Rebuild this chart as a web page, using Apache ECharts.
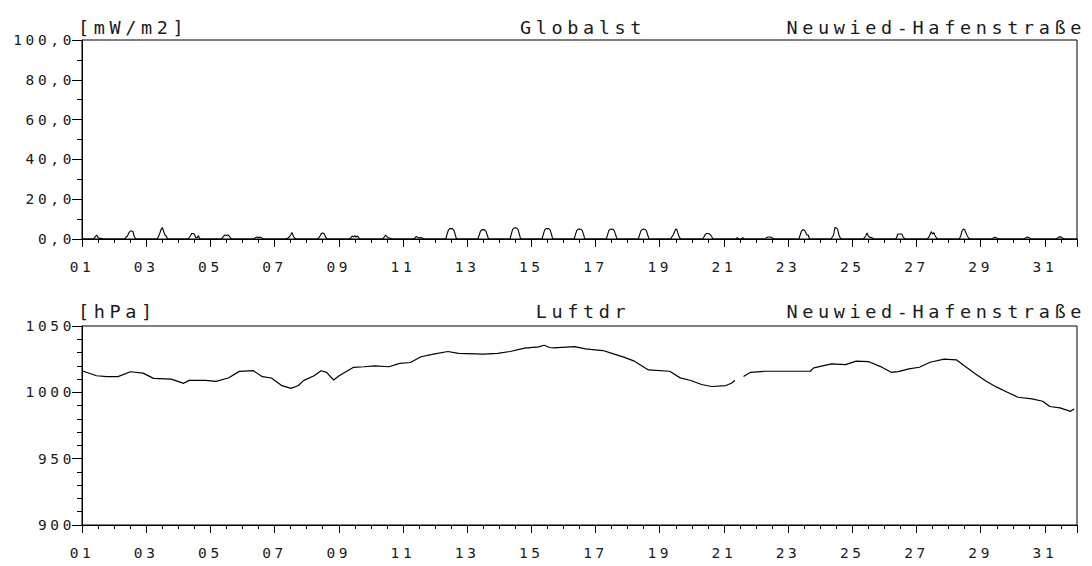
<!DOCTYPE html>
<html><head><meta charset="utf-8">
<script src="https://cdn.jsdelivr.net/npm/echarts@6/dist/echarts.min.js"></script>
<style>
html,body{margin:0;padding:0;background:#fff;}
#chart{width:1092px;height:566px;}
#chart text{letter-spacing:0.25em;}
</style></head><body><div id="chart"></div>
<script>
// ---------- data ----------
const dayTickLabels = ['01','03','05','07','09','11','13','15','17','19','21','23','25','27','29','31'];
const globalstTickLabels = ['0,0','20,0','40,0','60,0','80,0','100,0'];
const pressureTickLabels = ['900','950','1000','1050'];

// Globalstrahlung [mW/m2], daytime values at these hours of each day (night = 0)
const globalstHours = [8, 9, 10, 11, 12, 13, 14, 15, 16];
const globalstDay01 = [0, 0.3, 1.2, 2.0, 0.8, 0.4, 0.3, 0.2, 0];
const globalstDay02 = [0, 1.0, 1.5, 3.0, 4.0, 4.0, 3.8, 1.5, 0];
const globalstDay03 = [0, 1.0, 2.5, 4.5, 5.8, 4.0, 2.0, 1.5, 0];
const globalstDay04 = [0.5, 1.5, 2.8, 2.8, 2.5, 0.8, 0.5, 1.7, 0.3];
const globalstDay05 = [0, 0.5, 1.5, 2.0, 1.8, 2.0, 1.5, 0.5, 0];
const globalstDay06 = [0, 0.3, 0.8, 1.0, 0.6, 1.0, 0.8, 0.3, 0];
const globalstDay07 = [0, 0.3, 0.5, 1.0, 2.0, 3.3, 1.5, 0.5, 0];
const globalstDay08 = [0, 0.5, 1.5, 2.7, 3.0, 2.8, 1.2, 0.3, 0];
const globalstDay09 = [0, 0.5, 1.5, 1.0, 1.7, 1.0, 1.5, 0.5, 0];
const globalstDay10 = [0, 0.3, 1.0, 2.0, 1.2, 0.5, 0.5, 0.3, 0];
const globalstDay11 = [0, 0.5, 1.3, 0.8, 0.5, 0.8, 0.6, 0.3, 0];
const globalstDay12 = [0, 2.5, 4.5, 5.2, 5.3, 5.2, 4.5, 2.5, 0];
const globalstDay13 = [0, 2.0, 4.0, 4.6, 4.7, 4.6, 4.0, 2.0, 0];
const globalstDay14 = [0, 2.5, 4.8, 5.5, 5.7, 5.5, 4.8, 2.5, 0];
const globalstDay15 = [0, 2.5, 4.6, 5.2, 5.3, 5.2, 4.6, 2.5, 0];
const globalstDay16 = [0, 2.3, 4.3, 4.9, 5.0, 4.9, 4.3, 2.3, 0];
const globalstDay17 = [0, 2.2, 4.3, 4.9, 5.0, 4.9, 4.2, 2.2, 0];
const globalstDay18 = [0, 2.2, 4.2, 4.8, 5.0, 4.8, 4.2, 2.0, 0];
const globalstDay19 = [0, 1.0, 2.0, 3.5, 5.0, 4.5, 2.0, 0.5, 0];
const globalstDay20 = [0, 1.0, 2.2, 2.8, 2.8, 2.6, 2.0, 1.0, 0];
const globalstDay21 = [0, 0, 0.7, 0, 0, 0, 0.7, 0, 0];
const globalstDay22 = [0.8, 1.0, 1.0, 1.0, 0.5, 0.3, 0, 0, 0];
const globalstDay23 = [0, 2.0, 4.0, 4.7, 4.5, 3.5, 2.0, 2.0, 0];
const globalstDay24 = [0, 1.0, 2.0, 5.8, 5.6, 5.0, 2.0, 0.5, 0];
const globalstDay25 = [0, 0.5, 1.5, 3.0, 1.5, 0.8, 0.8, 0.5, 0];
const globalstDay26 = [0, 0.5, 2.5, 2.5, 2.5, 2.5, 1.0, 0.3, 0];
const globalstDay27 = [0, 0.8, 2.0, 3.7, 2.5, 3.2, 1.5, 0.5, 0];
const globalstDay28 = [0, 1.5, 4.0, 5.0, 4.8, 3.0, 1.5, 0.5, 0];
const globalstDay29 = [0, 0.3, 0.8, 0.8, 0.5, 0.3, 0, 0, 0];
const globalstDay30 = [0, 0.3, 0.8, 1.0, 0.8, 0.3, 0, 0, 0];
const globalstDay31 = [0, 0.3, 0.8, 1.2, 1.0, 0.5, 0.3, 0, 0];
const globalstDays = [globalstDay01, globalstDay02, globalstDay03, globalstDay04, globalstDay05, globalstDay06,
  globalstDay07, globalstDay08, globalstDay09, globalstDay10, globalstDay11, globalstDay12, globalstDay13,
  globalstDay14, globalstDay15, globalstDay16, globalstDay17, globalstDay18, globalstDay19, globalstDay20,
  globalstDay21, globalstDay22, globalstDay23, globalstDay24, globalstDay25, globalstDay26, globalstDay27,
  globalstDay28, globalstDay29, globalstDay30, globalstDay31];

// Luftdruck [hPa]: time in days of the month (1.0 = start of day 01), value
const pressureTime = [1.00,1.45,1.78,2.12,2.51,2.90,3.23,3.78,4.17,4.34,4.84,5.17,5.56,5.90,6.34,6.62,6.90,7.23,7.51,7.73,
  7.90,8.23,8.45,8.62,8.84,9.01,9.45,9.79,10.12,10.56,10.90,11.23,11.56,11.95,12.40,12.73,13.51,13.95,14.34,14.79,
  15.23,15.40,15.57,15.69,16.35,16.68,17.23,17.56,17.88,18.21,18.65,19.31,19.64,19.97,20.30,20.62,21.06,21.23,21.34,
  21.45,21.61,21.83,22.27,22.93,23.69,23.80,24.35,24.79,25.12,25.50,25.88,26.21,26.43,26.76,27.09,27.42,27.86,28.24,
  28.52,28.84,29.17,29.50,29.83,30.16,30.60,30.93,31.15,31.47,31.80,31.91];
const pressureHpa = [1016.3,1012.5,1011.8,1011.8,1015.5,1014.5,1010.5,1010.0,1006.8,1009.0,1009.0,1008.3,1010.8,1015.8,1016.3,1011.8,1010.8,1005.0,1003.0,1005.0,
  1008.8,1012.5,1016.3,1015.0,1009.3,1012.5,1018.8,1019.3,1020.0,1019.3,1021.8,1022.5,1026.8,1028.8,1030.8,1029.3,1028.8,1029.3,1030.8,1033.3,
  1034.3,1035.5,1033.8,1033.5,1034.5,1032.8,1031.5,1029.0,1026.5,1023.5,1016.9,1015.9,1010.9,1008.9,1005.9,1004.4,1005.1,1006.9,1008.9,
  null,1011.9,1015.1,1015.9,1015.9,1015.9,1018.4,1021.4,1020.9,1023.5,1023.2,1019.4,1015.1,1015.6,1017.7,1018.9,1022.7,1025.0,1024.5,
  1019.4,1013.9,1008.4,1003.9,1000.1,996.3,995.1,993.3,989.3,988.3,985.7,987.5];

// ---------- build series data ----------
const globalstData = [[0, 0]];
globalstDays.forEach(function (vals, d) {
  globalstData.push([d + 7 / 24, 0]);
  vals.forEach(function (v, i) { globalstData.push([d + globalstHours[i] / 24, v]); });
  globalstData.push([d + 17 / 24, 0]);
});
globalstData.push([31, 0]);
const pressureData = pressureTime.map(function (t, i) { return [t - 1, pressureHpa[i]]; });

// ---------- chart ----------
const FONT = "'DejaVu Sans Mono', monospace";
const TXT = '#1a1a1a';
const chart = echarts.init(document.getElementById('chart'), null, { renderer: 'svg' });

function xAxisCfg(gi) {
  return {
    type: 'value', gridIndex: gi, min: 0, max: 31, interval: 2,
    axisLine: { show: true, onZero: false, lineStyle: { color: '#000', width: 1 } },
    axisTick: { show: true, length: 8, lineStyle: { color: '#000', width: 1 } },
    minorTick: { show: true, splitNumber: 4, length: 4, lineStyle: { color: '#000', width: 1 } },
    splitLine: { show: false },
    axisLabel: {
      margin: 20, color: TXT, fontFamily: FONT, fontSize: 14.5,
      showMinLabel: true, showMaxLabel: true,
      formatter: function (v) { return (v <= 30 && v % 2 === 0) ? dayTickLabels[v / 2] : ''; }
    }
  };
}
function yAxisCfg(gi, min, max, interval, split, labels) {
  return {
    type: 'value', gridIndex: gi, min: min, max: max, interval: interval,
    axisLine: { show: true, onZero: false, lineStyle: { color: '#000', width: 1 } },
    axisTick: { show: true, length: 10, lineStyle: { color: '#000', width: 1 } },
    minorTick: { show: true, splitNumber: split, length: 5, lineStyle: { color: '#000', width: 1 } },
    splitLine: { show: false },
    axisLabel: {
      margin: 7, color: TXT, fontFamily: FONT, fontSize: 14.5,
      formatter: function (v) { return labels[Math.round((v - min) / interval)]; }
    }
  };
}
function txt(text, x, y, align) {
  return {
    type: 'text', x: x, y: y, silent: true,
    style: { text: text, font: "18.5px 'DejaVu Sans Mono', monospace", fill: TXT,
      textAlign: align, textVerticalAlign: 'middle', align: align, verticalAlign: 'middle' }
  };
}

chart.setOption({
  animation: false,
  backgroundColor: '#fff',
  grid: [
    { left: 82, top: 40, width: 995, height: 199, show: true, borderColor: '#000', borderWidth: 1, backgroundColor: 'transparent' },
    { left: 82, top: 326, width: 995, height: 199, show: true, borderColor: '#000', borderWidth: 1, backgroundColor: 'transparent' }
  ],
  xAxis: [xAxisCfg(0), xAxisCfg(1)],
  yAxis: [
    yAxisCfg(0, 0, 100, 20, 2, globalstTickLabels),
    yAxisCfg(1, 900, 1050, 50, 5, pressureTickLabels)
  ],
  series: [
    { type: 'line', xAxisIndex: 0, yAxisIndex: 0, data: globalstData, showSymbol: false, symbol: 'none',
      lineStyle: { color: '#000', width: 1.1 }, clip: true },
    { type: 'line', xAxisIndex: 1, yAxisIndex: 1, data: pressureData, showSymbol: false, symbol: 'none',
      connectNulls: false, lineStyle: { color: '#000', width: 1.2 }, clip: true }
  ],
  graphic: [
    txt('[mW/m2]', 78, 27, 'left'),
    txt('Globalst', 583, 27, 'center'),
    txt('Neuwied-Hafenstraße', 1086, 27, 'right'),
    txt('[hPa]', 78, 311, 'left'),
    txt('Luftdr', 583, 311, 'center'),
    txt('Neuwied-Hafenstraße', 1086, 311, 'right')
  ]
});
</script></body></html>
